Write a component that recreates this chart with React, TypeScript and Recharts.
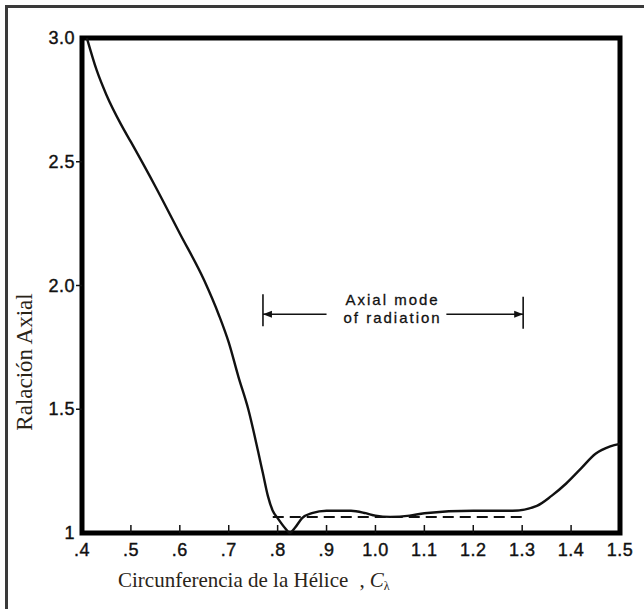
import React from "react";
import { LineChart, Line, XAxis, YAxis, ReferenceArea, ReferenceLine, ReferenceDot } from "recharts";

// helix circumference C_lambda vs axial ratio
const helixC = [
  0.41, 0.43, 0.45, 0.48, 0.5, 0.55, 0.6, 0.65, 0.68, 0.7, 0.72, 0.74, 0.76, 0.77, 0.78, 0.79, 0.8,
  0.815, 0.825, 0.835, 0.85, 0.87, 0.9, 0.95, 0.98, 1.0, 1.03, 1.07, 1.1, 1.2, 1.28, 1.33, 1.36,
  1.39, 1.42, 1.45, 1.48, 1.5,
];
const axialRatio = [
  3.0, 2.87, 2.77, 2.65, 2.58, 2.4, 2.21, 2.02, 1.88, 1.77, 1.63, 1.5, 1.33, 1.24, 1.15, 1.09, 1.06,
  1.02, 1.0, 1.02, 1.06, 1.08, 1.09, 1.09, 1.08, 1.07, 1.065, 1.07, 1.08, 1.09, 1.09, 1.11, 1.15,
  1.2, 1.26, 1.32, 1.35, 1.36,
];

// dashed reference line
const dashedC = [0.79, 1.3];
const dashedRatio = [1.065, 1.065];

// "axial mode of radiation" range
const modeRange = [0.77, 1.302];
const modeY = 1.884;
const modeTextC = 1.035;

const xTicks = [0.4, 0.5, 0.6, 0.7, 0.8, 0.9, 1.0, 1.1, 1.2, 1.3, 1.4, 1.5];
const xTickLabels = [".4", ".5", ".6", ".7", ".8", ".9", "1.0", "1.1", "1.2", "1.3", "1.4", "1.5"];
const yTicks = [1, 1.5, 2, 2.5, 3];
const yTickLabels = ["1", "1.5", "2.0", "2.5", "3.0"];

const curve = helixC.map((c, i) => ({ c, r: axialRatio[i] }));
const dashed = dashedC.map((c, i) => ({ c, r: dashedRatio[i] }));

const sans = "'Liberation Sans', Arial, sans-serif";
const serif = "'Liberation Serif', 'Times New Roman', serif";
const labelColor = "#2a2418";

const XTick = (props: any) => {
  const { x, y, index } = props;
  return (
    <g>
      {index > 0 && index < xTicks.length - 1 && (
        <line x1={x} x2={x} y1={y} y2={y - 8} stroke="#111" strokeWidth={1.5} />
      )}
      <text x={x} y={y + 23} textAnchor="middle" fontFamily={sans} fontSize={18} letterSpacing={0.5} fill="#111" stroke="#111" strokeWidth={0.4}>
        {xTickLabels[index]}
      </text>
    </g>
  );
};

const YTick = (props: any) => {
  const { x, y, index } = props;
  return (
    <g>
      {index > 0 && index < yTicks.length - 1 && (
        <line x1={x - 6} x2={x} y1={y} y2={y} stroke="#111" strokeWidth={1.5} />
      )}
      <text x={x - 7} y={y + 6} textAnchor="end" fontFamily={sans} fontSize={18} letterSpacing={0.5} fill="#111" stroke="#111" strokeWidth={0.4}>
        {yTickLabels[index]}
      </text>
    </g>
  );
};

const Arrow = (dir: number) => (props: any) => {
  const { cx, cy } = props;
  return <path d={`M${cx},${cy} L${cx - dir * 9},${cy - 3.5} L${cx - dir * 9},${cy + 3.5} Z`} fill="#111" />;
};

const ModeText = (props: any) => {
  const { cx, cy } = props;
  return (
    <text textAnchor="middle" fontFamily={sans} fontSize={15} letterSpacing={2} fill="#111" stroke="#111" strokeWidth={0.3}>
      <tspan x={cx} y={cy - 9}>Axial mode</tspan>
      <tspan x={cx} y={cy + 9}>of radiation</tspan>
    </text>
  );
};

export default function App() {
  return (
    <div style={{ position: "fixed", left: 0, top: 0, width: 644, height: 609, overflow: "hidden", background: "#fff" }}>
      <div style={{ position: "absolute", left: 5, top: 5, width: 700, height: 700, borderLeft: "3px solid #3a3a3a", borderTop: "3px solid #3a3a3a" }} />
      <LineChart width={644} height={609} data={curve} margin={{ top: 38, right: 24, bottom: 26, left: 12 }}>
        <XAxis
          dataKey="c"
          type="number"
          domain={[0.4, 1.5]}
          ticks={xTicks}
          interval={0}
          axisLine={false}
          tickLine={false}
          tickSize={0}
          tickMargin={0}
          height={50}
          tick={<XTick />}
          label={{
            content: ({ viewBox }: any) => (
              <text x={viewBox.x + 36} y={viewBox.y + 54} fontFamily={serif} fontSize={21} fill={labelColor}>
                Circunferencia de la Hélice{"  "}
                <tspan dx={6}>,</tspan>
                <tspan dx={5} fontStyle="italic">C</tspan>
                <tspan fontSize={12} dy={3}>λ</tspan>
              </text>
            ),
          }}
        />
        <YAxis
          dataKey="r"
          type="number"
          domain={[1, 3]}
          ticks={yTicks}
          interval={0}
          axisLine={false}
          tickLine={false}
          tickSize={0}
          tickMargin={0}
          width={70}
          tick={<YTick />}
          label={{
            content: () => (
              <text
                x={0}
                y={0}
                transform="translate(32, 362) rotate(-90)"
                textAnchor="middle"
                fontFamily={serif}
                fontSize={23}
                fill={labelColor}
              >
                Ralación Axial
              </text>
            ),
          }}
        />
        <Line
          data={dashed}
          dataKey="r"
          type="linear"
          stroke="#111"
          strokeWidth={2}
          strokeDasharray="11 6"
          dot={false}
          activeDot={false}
          isAnimationActive={false}
        />
        <Line
          dataKey="r"
          type="monotone"
          stroke="#111"
          strokeWidth={2.4}
          dot={false}
          activeDot={false}
          isAnimationActive={false}
        />
        <ReferenceLine
          segment={[{ x: modeRange[0], y: modeY }, { x: 0.9, y: modeY }]}
          stroke="#111"
          strokeWidth={1.6}
        />
        <ReferenceLine
          segment={[{ x: 1.145, y: modeY }, { x: modeRange[1], y: modeY }]}
          stroke="#111"
          strokeWidth={1.6}
        />
        <ReferenceLine
          segment={[{ x: modeRange[0], y: 1.965 }, { x: modeRange[0], y: 1.835 }]}
          stroke="#111"
          strokeWidth={1.6}
        />
        <ReferenceLine
          segment={[{ x: modeRange[1], y: 1.955 }, { x: modeRange[1], y: 1.825 }]}
          stroke="#111"
          strokeWidth={1.6}
        />
        <ReferenceDot x={modeRange[0]} y={modeY} shape={Arrow(-1)} />
        <ReferenceDot x={modeRange[1]} y={modeY} shape={Arrow(1)} />
        <ReferenceDot x={modeTextC} y={modeY} shape={ModeText} />
        <ReferenceArea x1={0.4} x2={1.5} y1={1} y2={3} fill="none" stroke="#000" strokeWidth={5} />
      </LineChart>
    </div>
  );
}
